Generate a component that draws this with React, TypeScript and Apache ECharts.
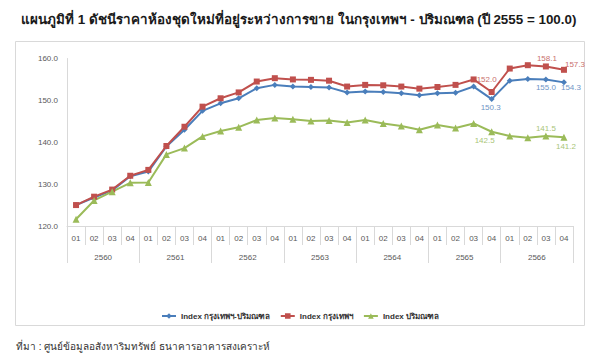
import React, { useEffect, useRef } from 'react';
import * as echarts from 'echarts';

const years = ['2560', '2561', '2562', '2563', '2564', '2565', '2566'];
const quarterNames = ['01', '02', '03', '04'];
const quarterLabels = years.flatMap(() => quarterNames);

const seriesNames = ['Index กรุงเทพฯ-ปริมณฑล', 'Index กรุงเทพฯ', 'Index ปริมณฑล'];

const bkkVicinity = [125.0, 126.8, 128.5, 131.9, 133.0, 139.0, 143.0, 147.5, 149.3, 150.5, 152.9, 153.7, 153.3, 153.2, 153.1, 151.9, 152.1, 152.0, 151.7, 151.2, 151.7, 151.8, 153.3, 150.3, 154.7, 155.1, 155.0, 154.3];
const bkk = [125.0, 127.0, 128.7, 132.0, 133.4, 139.1, 143.7, 148.5, 150.5, 151.9, 154.5, 155.3, 155.0, 154.9, 154.7, 153.3, 153.7, 153.6, 153.3, 152.8, 153.2, 153.7, 155.0, 152.0, 157.6, 158.4, 158.1, 157.3];
const vicinity = [121.6, 126.1, 128.2, 130.3, 130.4, 137.1, 138.6, 141.4, 142.7, 143.6, 145.3, 145.8, 145.5, 145.1, 145.2, 144.7, 145.3, 144.5, 143.9, 143.0, 144.1, 143.4, 144.5, 142.5, 141.5, 141.1, 141.5, 141.2];

const yMin = 120;
const yMax = 160;
const yStep = 10;

const colors = ['#4a7ebb', '#c0504d', '#9bbb59'];
const labelColors = ['#6f95c6', '#c9706d', '#a9c577'];
const symbols = ['diamond', 'rect', 'triangle'];
const symbolSizes = [6, 6, 7];

// label placement (point index -> offset of label centre from point)
const labelOffsets: Record<number, [number, number]>[] = [
  { 23: [-1, 8], 26: [0, 8], 27: [7, 5] },
  { 23: [-5, -13], 26: [1, -8], 27: [11, -5] },
  { 23: [-7, 9], 26: [0, -7], 27: [2, 9] },
];

const FONT = 'Liberation Sans, Arial, sans-serif';

function buildData(values: number[], idx: number) {
  return values.map((v, i) => {
    const off = labelOffsets[idx][i];
    if (!off) return v;
    return {
      value: v,
      label: {
        show: true,
        position: 'inside',
        offset: off,
        formatter: (p: any) => Number(p.value).toFixed(1),
        color: labelColors[idx],
        fontSize: 8,
        fontFamily: FONT,
      },
    };
  });
}

export default function App() {
  const ref = useRef<HTMLDivElement>(null);
  useEffect(() => {
    document.body.style.margin = '0';
    const chart = echarts.init(ref.current!, null, { renderer: 'svg' });
    const allSeries = [bkkVicinity, bkk, vicinity];
    chart.setOption({
      animation: false,
      backgroundColor: '#ffffff',
      title: {
        text: 'แผนภูมิที่ 1 ดัชนีราคาห้องชุดใหม่ที่อยู่ระหว่างการขาย ในกรุงเทพฯ - ปริมณฑล (ปี 2555 = 100.0)',
        left: 16,
        top: 8,
        textStyle: { fontSize: 13.4, fontWeight: 'bold', color: '#1a1a1a', fontFamily: FONT },
      },
      graphic: [
        {
          type: 'rect',
          shape: { x: 15.5, y: 41.5, width: 569, height: 284 },
          style: { fill: 'none', stroke: '#d9d9d9', lineWidth: 1 },
          z: -1,
        },
        {
          type: 'text',
          left: 16,
          top: 341,
          style: {
            text: 'ที่มา : ศูนย์ข้อมูลอสังหาริมทรัพย์ ธนาคารอาคารสงเคราะห์',
            fontSize: 10,
            fill: '#333333',
            fontFamily: FONT,
          },
        },
      ],
      legend: {
        data: seriesNames,
        top: 307,
        left: 'center',
        itemWidth: 14,
        itemHeight: 7,
        itemGap: 10,
        textStyle: { fontSize: 8, fontWeight: 'bold', color: '#333333', fontFamily: FONT },
      },
      grid: { left: 67, right: 27, top: 58.5, bottom: 134 },
      xAxis: [
        {
          type: 'category',
          data: quarterLabels,
          boundaryGap: true,
          axisLine: { show: true, lineStyle: { color: '#d9d9d9' } },
          axisTick: { show: true, interval: 0, length: 19, lineStyle: { color: '#d9d9d9' } },
          axisLabel: { interval: 0, margin: 8, fontSize: 8, color: '#595959', fontFamily: FONT },
        },
        {
          type: 'category',
          data: years,
          position: 'bottom',
          boundaryGap: true,
          axisLine: { show: false },
          axisTick: { show: true, interval: 0, length: 37, lineStyle: { color: '#d9d9d9' } },
          axisLabel: { interval: 0, margin: 27, fontSize: 8, color: '#595959', fontFamily: FONT },
        },
      ],
      yAxis: {
        type: 'value',
        min: yMin,
        max: yMax,
        interval: yStep,
        axisLine: { show: true, lineStyle: { color: '#d9d9d9' } },
        axisTick: { show: false },
        splitLine: { show: false },
        axisLabel: {
          margin: 9,
          fontSize: 8,
          color: '#595959',
          fontFamily: FONT,
          formatter: (v: number) => v.toFixed(1),
        },
      },
      series: allSeries.map((vals, i) => ({
        name: seriesNames[i],
        type: 'line',
        xAxisIndex: 0,
        data: buildData(vals, i),
        symbol: symbols[i],
        symbolSize: symbolSizes[i],
        showAllSymbol: true,
        lineStyle: { width: 2, color: colors[i] },
        itemStyle: { color: colors[i] },
        label: { show: false },
      })),
    });
    return () => chart.dispose();
  }, []);
  return <div ref={ref} style={{ position: 'absolute', left: 0, top: 0, width: 600, height: 360 }} />;
}
